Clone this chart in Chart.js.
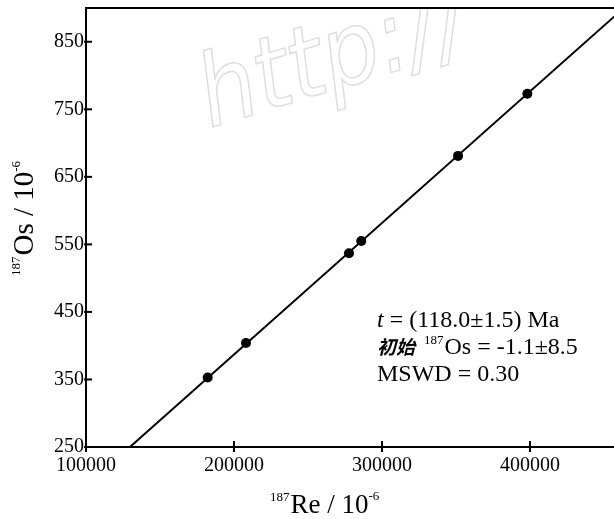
<!DOCTYPE html>
<html>
<head>
<meta charset="utf-8">
<script src="https://cdn.jsdelivr.net/npm/chart.js@4"></script>
<style>
  body { margin: 0; background: #fff; }
  canvas { display: block; }
</style>
</head>
<body>
<canvas id="myChart" width="614" height="519"></canvas>
<script>
// measured samples (187Re vs 187Os, both in 10^-6)
const reValues = [182200, 208100, 277700, 286000, 351400, 398200]
const osValues = [353, 404, 537, 555, 681, 773]

// isochron line, read at the two ends where it leaves the frame
const fitRe = [129700, 457000]
const fitOs = [250, 887.5]

const xTicks = [100000, 200000, 300000, 400000]
const yTicks = [250, 350, 450, 550, 650, 750, 850]

const serif = "'Liberation Serif', 'Times New Roman', serif"
const ctx = document.querySelector('#myChart')

// draws a run of text pieces one after another (for superscripts)
function drawRun(c, parts, x, y) {
    parts.forEach(p => {
        c.font = p.font
        c.fillText(p.text, x, y - (p.up || 0))
        x += c.measureText(p.text).width + (p.gap || 0)
    })
}

// no extra room for half labels, the frame fills the canvas
function noPad(s) {
    s.paddingTop = 0
    s.paddingBottom = 0
    s.paddingLeft = 0
    s.paddingRight = 0
}

const decor = {
    id: 'decor',
    beforeDatasetsDraw(chart) {
        const c = chart.ctx
        const a = chart.chartArea
        // faint watermark
        c.save()
        c.beginPath()
        c.rect(a.left, a.top, a.right - a.left, a.bottom - a.top)
        c.clip()
        c.translate(210, 128)
        c.rotate(-17 * Math.PI / 180)
        c.font = "italic 100px 'Liberation Sans Narrow', 'DejaVu Sans Condensed', sans-serif"
        c.strokeStyle = '#dedede'
        c.lineWidth = 1.5
        c.strokeText('http://', 0, 0)
        c.restore()
    },
    afterDraw(chart) {
        const c = chart.ctx
        const a = chart.chartArea
        const xs = chart.scales.x
        const ys = chart.scales.y
        c.save()
        c.strokeStyle = '#000'
        c.fillStyle = '#000'
        // top frame line
        c.lineWidth = 2
        c.beginPath()
        c.moveTo(a.left, a.top)
        c.lineTo(a.right, a.top)
        c.stroke()
        // ticks crossing the axes
        xTicks.forEach(v => {
            const px = xs.getPixelForValue(v)
            c.beginPath()
            c.moveTo(px, a.bottom - 6)
            c.lineTo(px, a.bottom + 5)
            c.stroke()
        })
        yTicks.forEach(v => {
            const py = ys.getPixelForValue(v)
            c.beginPath()
            c.moveTo(a.left - 2, py)
            c.lineTo(a.left + 6, py)
            c.stroke()
        })

        c.textAlign = 'left'
        c.textBaseline = 'alphabetic'
        // x title
        drawRun(c, [
            { text: '187', font: '13px ' + serif, up: 12, gap: 1 },
            { text: 'Re / 10', font: '27px ' + serif },
            { text: '-6', font: '13px ' + serif, up: 13 }
        ], 270, 513)
        // y title
        c.save()
        c.translate(33, 276)
        c.rotate(-Math.PI / 2)
        drawRun(c, [
            { text: '187', font: '13px ' + serif, up: 13, gap: 1 },
            { text: 'Os / 10', font: '29px ' + serif },
            { text: '-6', font: '13px ' + serif, up: 13 }
        ], 0, 0)
        c.restore()

        // result block
        drawRun(c, [
            { text: 't', font: 'italic 24px ' + serif },
            { text: ' = (118.0±1.5) Ma', font: '24px ' + serif }
        ], 377, 327)
        drawRun(c, [
            { text: '初始', font: "italic bold 19px 'Noto Sans CJK SC', sans-serif", gap: 9 },
            { text: '187', font: '13px ' + serif, up: 10, gap: 1 },
            { text: 'Os = -1.1±8.5', font: '24px ' + serif }
        ], 377, 354)
        drawRun(c, [
            { text: 'MSWD = 0.30', font: '24px ' + serif }
        ], 377, 381)
        c.restore()
    }
}

new Chart(ctx, {
    type: 'scatter',
    data: {
        datasets: [{
            label: 'fit',
            data: fitRe.map((x, i) => ({ x: x, y: fitOs[i] })),
            showLine: true,
            borderColor: '#000',
            borderWidth: 2,
            pointRadius: 0,
            order: 2
        }, {
            label: 'samples',
            data: reValues.map((x, i) => ({ x: x, y: osValues[i] })),
            backgroundColor: '#000',
            borderColor: '#000',
            borderWidth: 0,
            pointRadius: 5,
            order: 1
        }]
    },
    options: {
        responsive: false,
        animation: false,
        layout: { autoPadding: false, padding: { left: 0, top: 8, right: 0, bottom: 0 } },
        plugins: {
            legend: { display: false },
            tooltip: { enabled: false }
        },
        scales: {
            x: {
                type: 'linear',
                min: 100000,
                max: 456757,
                afterBuildTicks: (s) => { s.ticks = xTicks.map(v => ({ value: v })) },
                afterFit: (s) => { s.height = 72; noPad(s) },
                grid: { display: false, drawTicks: false },
                border: { display: true, color: '#000', width: 2 },
                ticks: {
                    color: '#000',
                    padding: 7,
                    maxRotation: 0,
                    autoSkip: false,
                    font: { family: serif, size: 20 },
                    callback: (v) => String(v)
                }
            },
            y: {
                type: 'linear',
                min: 250,
                max: 900,
                afterBuildTicks: (s) => { s.ticks = yTicks.map(v => ({ value: v })) },
                afterFit: (s) => { s.width = 86; noPad(s) },
                grid: { display: false, drawTicks: false },
                border: { display: true, color: '#000', width: 2 },
                ticks: {
                    color: '#000',
                    padding: 2,
                    autoSkip: false,
                    font: { family: serif, size: 20 },
                    callback: (v) => String(v)
                }
            }
        }
    },
    plugins: [decor]
})
</script>
</body>
</html>
